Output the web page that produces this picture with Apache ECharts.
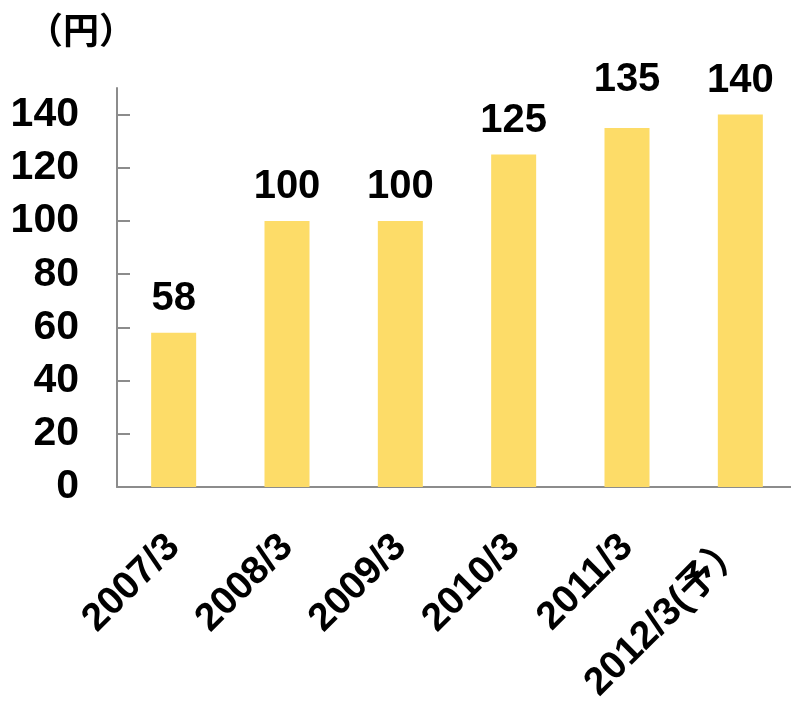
<!DOCTYPE html>
<html lang="ja">
  <head>
    <meta charset="UTF-8" />
    <title>配当金の推移</title>
    <script src="https://cdn.jsdelivr.net/npm/echarts@6/dist/echarts.min.js"></script>
    <style>
      html, body { margin: 0; padding: 0; background: #fff; }
      #main { width: 791px; height: 702px; }
    </style>
  </head>
  <body>
    <div id="main"></div>
    <script>
      // data
      let categories = ["2007/3", "2008/3", "2009/3", "2010/3", "2011/3", "2012/3(予）"];
      let dividends = [58, 100, 100, 125, 135, 140];
      let yTicks = [0, 20, 40, 60, 80, 100, 120, 140];

      let font = "'Liberation Sans', Arial, 'Noto Sans CJK JP', sans-serif";
      let axisGrey = "#8c8c8c";

      let myChart = echarts.init(document.getElementById("main"));

      // the 2011/3 label sits level with the 2012/3 one in the original
      let barData = dividends.map((v, i) =>
        i === 4 ? { value: v, label: { distance: 28 } } : v
      );

      let options = {
        animation: false,
        title: {
          text: "（円）",
          left: 22,
          top: 11,
          textStyle: { fontFamily: font, fontSize: 36, fontWeight: "bold", color: "#000" },
        },
        grid: {
          left: 117,
          width: 680,
          top: 88,
          bottom: 215,
          containLabel: false,
          outerBoundsMode: "none",
        },
        xAxis: {
          type: "category",
          data: categories,
          axisLine: { lineStyle: { color: axisGrey, width: 2 } },
          axisTick: { inside: true, length: 13, lineStyle: { color: axisGrey, width: 2 } },
          axisLabel: {
            rotate: 45,
            margin: 54,
            fontFamily: font,
            fontSize: 39,
            fontWeight: "bold",
            color: "#000",
            interval: 0,
          },
        },
        yAxis: {
          type: "value",
          min: 0,
          max: 150,
          interval: 20,
          splitLine: { show: false },
          axisLine: { show: true, lineStyle: { color: axisGrey, width: 2 } },
          axisTick: { show: true, inside: true, length: 13, lineStyle: { color: axisGrey, width: 2 } },
          axisLabel: {
            margin: 38,
            showMaxLabel: false,
            fontFamily: font,
            fontSize: 41,
            fontWeight: "bold",
            color: "#000",
            formatter: function (v) {
              return yTicks.indexOf(v) >= 0 ? String(v) : "";
            },
          },
        },
        series: [
          {
            name: "配当金",
            type: "bar",
            data: barData,
            barWidth: 45,
            itemStyle: { color: "#fddc68" },
            label: {
              show: true,
              position: "top",
              distance: 14,
              fontFamily: font,
              fontSize: 40,
              fontWeight: "bold",
              color: "#000",
            },
          },
        ],
      };

      myChart.setOption(options);
    </script>
  </body>
</html>
